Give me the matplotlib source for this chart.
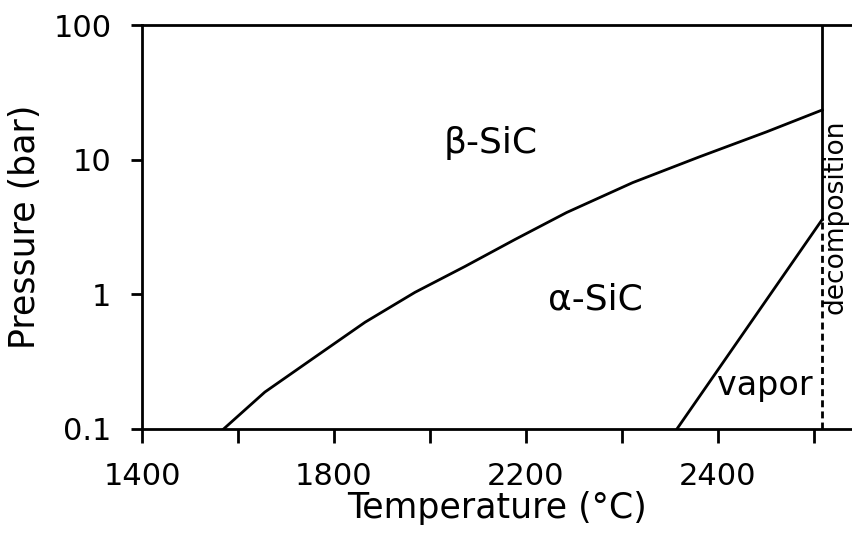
import matplotlib.pyplot as plt

# beta / alpha boundary
beta_alpha_T = [1570, 1656, 1760, 1865, 1969, 2073, 2177, 2285, 2423, 2562, 2702, 2818]
beta_alpha_P = [0.1, 0.188, 0.341, 0.621, 1.035, 1.61, 2.55, 4.05, 6.76, 10.5, 16.1, 23.4]

# alpha / vapor boundary
vapor_T = [2515, 2818]
vapor_P = [0.1, 3.6]

# decomposition limit
decomp_T = 2818
decomp_solid_P = [3.6, 100]
decomp_dashed_P = [0.1, 3.6]

x_ticks = [1400, 1600, 1800, 2000, 2200, 2400, 2600, 2800]
x_tick_labels = ['1400', '', '1800', '', '2200', '', '2400', '']
y_ticks = [0.1, 1, 10, 100]
y_tick_labels = ['0.1', '1', '10', '100']

plt.rcParams['font.family'] = 'DejaVu Sans'

fig = plt.figure(figsize=(8.52, 5.44), dpi=100)
ax = fig.add_axes([0.1667, 0.2114, 0.8333, 0.7426])

lw = 2.0
ax.plot(beta_alpha_T, beta_alpha_P, color='black', lw=lw)
ax.plot(vapor_T, vapor_P, color='black', lw=lw)
ax.plot([decomp_T, decomp_T], decomp_solid_P, color='black', lw=lw)
ax.plot([decomp_T, decomp_T], decomp_dashed_P, color='black', lw=lw,
        linestyle=(0, (2.5, 1.5)))

ax.set_yscale('log')
ax.set_xlim(1400, 2880)
ax.set_ylim(0.1, 100)

ax.set_xticks(x_ticks)
ax.set_xticklabels(x_tick_labels)
ax.set_yticks(y_ticks)
ax.set_yticklabels(y_tick_labels)
ax.minorticks_off()

ax.tick_params(axis='x', direction='out', length=10, width=lw, pad=14, labelsize=22)
ax.tick_params(axis='y', direction='out', length=8, width=lw, pad=14, labelsize=22)

for side in ['left', 'bottom', 'top']:
    ax.spines[side].set_linewidth(lw)
ax.spines['right'].set_visible(False)

ax.set_xlabel('Temperature (°C)', fontsize=25, labelpad=0)
ax.set_ylabel('Pressure (bar)', fontsize=25, labelpad=8)

ax.text(2126, 13.4, 'β-SiC', fontsize=26, ha='center', va='center')
ax.text(2346, 0.92, 'α-SiC', fontsize=26, ha='center', va='center')
ax.text(2698, 0.21, 'vapor', fontsize=24, ha='center', va='center')
ax.text(2846, 3.8, 'decomposition', fontsize=19, ha='center', va='center',
        rotation=90)

plt.savefig('out.png', dpi=100)
